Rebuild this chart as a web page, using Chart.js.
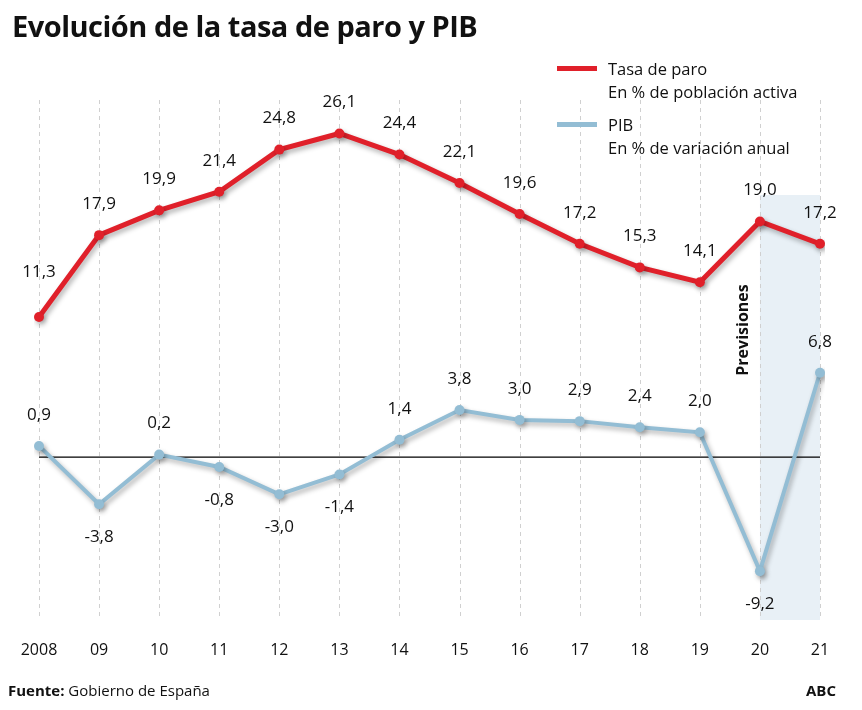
<!DOCTYPE html>
<html><head><meta charset="utf-8">
<script src="https://cdn.jsdelivr.net/npm/chart.js@4"></script>
<style>
body{margin:0;width:862px;height:710px;background:#fff;font-family:"Open Sans",Lato,sans-serif;position:relative;overflow:hidden}
#c{position:absolute;left:0;top:0}
.t{position:absolute;color:#111}
</style></head><body>
<canvas id="c" width="862" height="710"></canvas>
<div class="t" style="left:12px;top:6px;font-size:29px;font-weight:700;letter-spacing:-0.5px">Evolución de la tasa de paro y PIB</div>
<div class="t" style="left:557px;top:66px;width:40px;height:5px;background:#e0202a"></div>
<div class="t" style="left:608px;top:57px;font-size:16.5px;line-height:23px">Tasa de paro<br>En % de población activa</div>
<div class="t" style="left:557px;top:122px;width:40px;height:5px;background:#93bdd4"></div>
<div class="t" style="left:608px;top:113px;font-size:16.5px;line-height:23px">PIB<br>En % de variación anual</div>
<div class="t" style="left:8px;top:680px;font-size:15px"><b>Fuente:</b> Gobierno de España</div>
<div class="t" style="left:806px;top:680px;font-size:15px;font-weight:700">ABC</div>
<script>
const years=["2008","09","10","11","12","13","14","15","16","17","18","19","20","21"];
const paro=[11.3,17.9,19.9,21.4,24.8,26.1,24.4,22.1,19.6,17.2,15.3,14.1,19.0,17.2];
const pib=[0.9,-3.8,0.2,-0.8,-3.0,-1.4,1.4,3.8,3.0,2.9,2.4,2.0,-9.2,6.8];
const fmt=v=>v.toFixed(1).replace('.',',');
const deco={id:'deco',
beforeDatasetsDraw(ch){const c=ch.ctx,x=ch.scales.x,y=ch.scales.y;
 c.save();
 const x20=x.getPixelForValue(12),x21=x.getPixelForValue(13);
 c.fillStyle='#e8f0f6';c.fillRect(x20,195,x21-x20,620-195);
 c.strokeStyle='#d0d0d0';c.lineWidth=1;c.setLineDash([4,4]);
 years.forEach((_,i)=>{const px=Math.round(x.getPixelForValue(i))+0.5;c.beginPath();c.moveTo(px,100);c.lineTo(px,620);c.stroke();});
 c.setLineDash([]);c.strokeStyle='#000';c.lineWidth=1.2;
 const y0=y.getPixelForValue(0);c.beginPath();c.moveTo(x.getPixelForValue(0),y0);c.lineTo(x21,y0);c.stroke();
 c.fillStyle='#111';c.font='16px "Open Sans"';c.textAlign='center';c.textBaseline='middle';
 years.forEach((t,i)=>c.fillText(t,x.getPixelForValue(i),650));
 c.save();c.translate(x20-16,330);c.rotate(-Math.PI/2);c.font='bold 16px "Open Sans"';c.fillText('Previsiones',0,0);c.restore();
 c.shadowColor='rgba(0,0,0,0.3)';c.shadowBlur=5;c.shadowOffsetX=2;c.shadowOffsetY=3;
},
afterDatasetsDraw(ch){const c=ch.ctx,x=ch.scales.x,y=ch.scales.y;
 c.restore();c.save();
 c.fillStyle='#111';c.font='17px "Open Sans"';c.textAlign='center';c.textBaseline='middle';
 paro.forEach((v,i)=>c.fillText(fmt(v),x.getPixelForValue(i),y.getPixelForValue(v)-(i==0?45:31)));
 pib.forEach((v,i)=>c.fillText(fmt(v),x.getPixelForValue(i),y.getPixelForValue(v)+(v>=0?-31:33)));
 c.restore();}
};
new Chart(document.getElementById('c'),{type:'line',
data:{labels:years,datasets:[
{data:paro,borderColor:'#e0202a',backgroundColor:'#e0202a',borderWidth:5,pointRadius:5,pointBorderWidth:0,tension:0},
{data:pib,borderColor:'#93bdd4',backgroundColor:'#93bdd4',borderWidth:4,pointRadius:5,pointBorderWidth:0,tension:0}]},
options:{responsive:false,animation:false,devicePixelRatio:1,
layout:{padding:{left:39,right:42,top:100,bottom:90}},
plugins:{legend:{display:false},tooltip:{enabled:false}},
scales:{x:{display:false,offset:false},y:{display:false,min:-13.14,max:28.8}}},
plugins:[deco]});
</script></body></html>
